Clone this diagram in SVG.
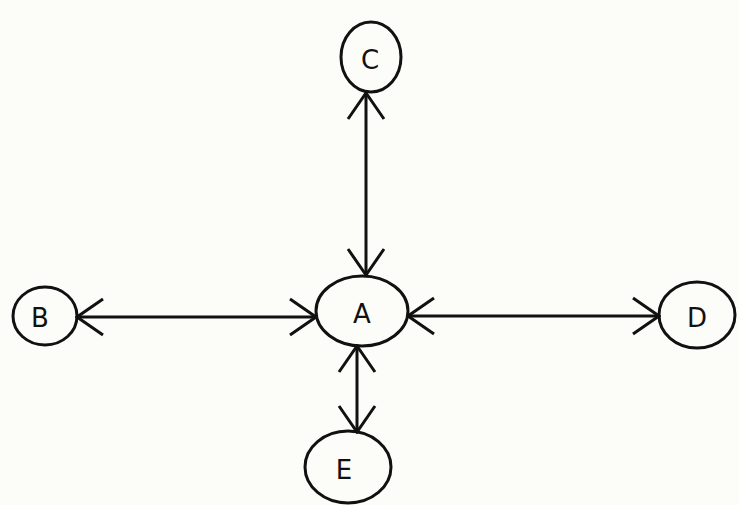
<svg xmlns="http://www.w3.org/2000/svg" width="739" height="505" viewBox="0 0 739 505">
<style>
.node{fill:none;stroke:#111;stroke-width:3}
.lbl{font-family:"DejaVu Sans",sans-serif;font-size:26px;fill:#111;text-anchor:middle;dominant-baseline:central}
.edge{stroke:#111;stroke-width:3;fill:none}
</style>
<defs>
<marker id="ah" markerUnits="userSpaceOnUse" viewBox="-28 -20 30 40" refX="0" refY="0" markerWidth="30" markerHeight="40" orient="auto-start-reverse">
<path d="M-26,-18 L0,0 L-26,18" fill="none" stroke="#111" stroke-width="3"/>
</marker>
</defs>
<rect width="739" height="505" fill="#fcfcf8"/>
<g id="connectors">
<line class="edge" x1="366" y1="93" x2="366" y2="275" marker-start="url(#ah)" marker-end="url(#ah)"/>
<line class="edge" x1="77" y1="317" x2="316" y2="317" marker-start="url(#ah)" marker-end="url(#ah)"/>
<line class="edge" x1="408" y1="316" x2="659" y2="316" marker-start="url(#ah)" marker-end="url(#ah)"/>
<line class="edge" x1="357" y1="346" x2="357" y2="432" marker-start="url(#ah)" marker-end="url(#ah)"/>
</g>
<g id="node-C"><ellipse class="node" cx="371" cy="57" rx="30" ry="35"/><text class="lbl" x="370" y="60">C</text></g>
<g id="node-A"><ellipse class="node" cx="362" cy="311" rx="46" ry="35"/><text class="lbl" x="362" y="314">A</text></g>
<g id="node-B"><ellipse class="node" cx="45" cy="316" rx="32" ry="29"/><text class="lbl" x="40" y="318">B</text></g>
<g id="node-D"><ellipse class="node" cx="697" cy="315" rx="38" ry="33"/><text class="lbl" x="697" y="318">D</text></g>
<g id="node-E"><ellipse class="node" cx="348" cy="467" rx="43" ry="36"/><text class="lbl" x="344" y="470">E</text></g>
</svg>
